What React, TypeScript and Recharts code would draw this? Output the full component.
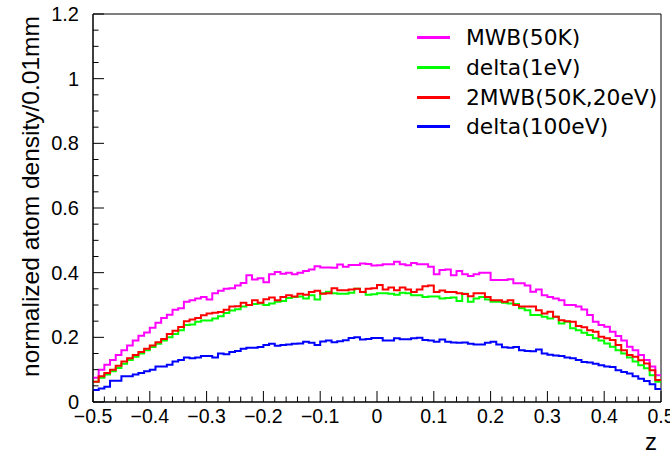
import React from "react";
import {
  LineChart,
  Line,
  XAxis,
  YAxis,
  ReferenceArea,
} from "recharts";

// 100 bins of width 0.01 on z in [-0.5, 0.5]
const binEdges = Array.from({ length: 101 }, (_, i) => Math.round((-0.5 + i * 0.01) * 100) / 100);

const mwb50K = [
  0.075, 0.10, 0.115, 0.13, 0.145, 0.16, 0.175, 0.19, 0.205, 0.215, 0.23, 0.245, 0.26, 0.27, 0.285, 0.29, 0.31,
  0.315, 0.32, 0.325, 0.317, 0.336, 0.344, 0.35, 0.352, 0.36, 0.368, 0.392, 0.379, 0.383, 0.37, 0.395, 0.402, 0.397, 0.40,
  0.395, 0.40, 0.405, 0.41, 0.42, 0.416, 0.416, 0.415, 0.425, 0.418, 0.424, 0.424, 0.428, 0.427, 0.422,
  0.423, 0.426, 0.426, 0.434, 0.426, 0.423, 0.43, 0.426, 0.426, 0.418, 0.395, 0.408, 0.41, 0.392, 0.405, 0.395, 0.39,
  0.395, 0.40, 0.40, 0.377, 0.377, 0.377, 0.38, 0.367, 0.367, 0.36, 0.341, 0.348, 0.33, 0.325, 0.32, 0.315, 0.30,
  0.30, 0.295, 0.286, 0.269, 0.248, 0.238, 0.233, 0.217, 0.204, 0.19, 0.171, 0.16, 0.145, 0.13, 0.11, 0.083,
];

const delta1eV = [
  0.063, 0.075, 0.085, 0.095, 0.105, 0.118, 0.13, 0.14, 0.15, 0.16, 0.17, 0.18, 0.19, 0.20, 0.21, 0.222, 0.238,
  0.24, 0.248, 0.252, 0.252, 0.258, 0.265, 0.275, 0.283, 0.287, 0.295, 0.30, 0.303, 0.305, 0.30, 0.305, 0.31, 0.312, 0.322,
  0.325, 0.326, 0.32, 0.33, 0.317, 0.336, 0.341, 0.336, 0.335, 0.335, 0.338, 0.35, 0.34, 0.332, 0.333,
  0.336, 0.336, 0.335, 0.332, 0.338, 0.336, 0.33, 0.33, 0.325, 0.326, 0.326, 0.32, 0.322, 0.323, 0.312, 0.335, 0.31,
  0.32, 0.325, 0.317, 0.31, 0.31, 0.307, 0.305, 0.303, 0.29, 0.284, 0.269, 0.269, 0.264, 0.258, 0.264, 0.243, 0.248,
  0.228, 0.222, 0.214, 0.207, 0.197, 0.19, 0.181, 0.171, 0.16, 0.15, 0.138, 0.125, 0.114, 0.104, 0.083, 0.063,
];

const mwb2_50K20eV = [
  0.063, 0.08, 0.09, 0.10, 0.112, 0.125, 0.135, 0.145, 0.155, 0.165, 0.175, 0.185, 0.195, 0.21, 0.22, 0.232, 0.25,
  0.255, 0.26, 0.268, 0.274, 0.276, 0.278, 0.285, 0.295, 0.296, 0.307, 0.30, 0.315, 0.307, 0.318, 0.323, 0.315, 0.325, 0.33,
  0.326, 0.335, 0.332, 0.34, 0.344, 0.335, 0.336, 0.352, 0.346, 0.346, 0.348, 0.35, 0.34, 0.35, 0.352,
  0.362, 0.348, 0.354, 0.346, 0.354, 0.348, 0.34, 0.348, 0.358, 0.36, 0.34, 0.345, 0.34, 0.34, 0.336, 0.334, 0.327,
  0.336, 0.336, 0.325, 0.315, 0.315, 0.31, 0.315, 0.30, 0.295, 0.295, 0.295, 0.284, 0.274, 0.279, 0.264, 0.253, 0.25,
  0.248, 0.235, 0.231, 0.222, 0.217, 0.202, 0.197, 0.192, 0.176, 0.16, 0.145, 0.14, 0.129, 0.119, 0.098, 0.068,
];

const delta100eV = [
  0.037, 0.042, 0.047, 0.066, 0.066, 0.08, 0.08, 0.085, 0.09, 0.095, 0.10, 0.11, 0.11, 0.115, 0.125, 0.13, 0.138,
  0.135, 0.138, 0.142, 0.142, 0.138, 0.15, 0.148, 0.155, 0.158, 0.165, 0.168, 0.168, 0.17, 0.176, 0.18, 0.174, 0.176, 0.178,
  0.18, 0.181, 0.186, 0.183, 0.176, 0.187, 0.19, 0.185, 0.188, 0.191, 0.198, 0.2, 0.193, 0.195, 0.198,
  0.198, 0.19, 0.19, 0.197, 0.194, 0.194, 0.197, 0.199, 0.192, 0.19, 0.186, 0.193, 0.186, 0.184, 0.183, 0.184, 0.18,
  0.178, 0.178, 0.183, 0.186, 0.178, 0.169, 0.168, 0.17, 0.16, 0.158, 0.157, 0.162, 0.15, 0.146, 0.144, 0.142, 0.138,
  0.135, 0.13, 0.124, 0.122, 0.118, 0.114, 0.11, 0.108, 0.098, 0.093, 0.088, 0.08, 0.072, 0.065, 0.055, 0.04,
];

const series = [
  { key: "mwb", name: "MWB(50K)", color: "#ff00ff", values: mwb50K },
  { key: "d1", name: "delta(1eV)", color: "#00ff00", values: delta1eV },
  { key: "mwb2", name: "2MWB(50K,20eV)", color: "#ff0000", values: mwb2_50K20eV },
  { key: "d100", name: "delta(100eV)", color: "#0000ff", values: delta100eV },
];

// step histogram: one point per low edge, plus the upper edge repeating the last bin
const data = binEdges.map((z, i) => {
  const row: any = { z };
  series.forEach((s) => {
    row[s.key] = s.values[Math.min(i, s.values.length - 1)];
  });
  return row;
});

const xMajor = [-0.5, -0.4, -0.3, -0.2, -0.1, 0, 0.1, 0.2, 0.3, 0.4, 0.5];
const yMajor = [0, 0.2, 0.4, 0.6, 0.8, 1, 1.2];
const xTicks = Array.from({ length: 51 }, (_, i) => Math.round((-0.5 + i * 0.02) * 100) / 100);
const yTicks = Array.from({ length: 25 }, (_, i) => Math.round(i * 0.05 * 100) / 100);

const axisFont = "'Liberation Sans', Arial, sans-serif";

const fmt = (v: number) => (v < 0 ? "\u2212" + String(-v) : String(v));

const XTick = (props: any) => {
  const { x, y, payload } = props;
  const v = payload.value;
  const major = xMajor.some((m) => Math.abs(m - v) < 1e-6);
  return (
    <g>
      <line x1={x} x2={x} y1={y} y2={y - (major ? 11 : 5.5)} stroke="#000" strokeWidth={1} />
      {major && (
        <text x={x} y={y + 21} textAnchor="middle" fontFamily={axisFont} fontSize={19.5} fill="#000">
          {fmt(v)}
        </text>
      )}
    </g>
  );
};

const YTick = (props: any) => {
  const { x, y, payload } = props;
  const v = payload.value;
  const major = yMajor.some((m) => Math.abs(m - v) < 1e-6);
  return (
    <g>
      <line x1={x} x2={x + (major ? 11 : 5.5)} y1={y} y2={y} stroke="#000" strokeWidth={1} />
      {major && (
        <text x={x - 14} y={y + 7} textAnchor="end" fontFamily={axisFont} fontSize={20} fill="#000">
          {fmt(v)}
        </text>
      )}
    </g>
  );
};

const HistLegend = () => (
  <div
    style={{
      position: "absolute",
      left: 417,
      top: 23,
      fontFamily: "'DejaVu Sans', sans-serif",
      fontSize: 21.8,
      color: "#000",
    }}
  >
    {series.map((s) => (
      <div key={s.key} style={{ display: "flex", alignItems: "center", height: 29.7 }}>
        <div style={{ width: 33, height: 3, background: s.color, marginRight: 16 }} />
        <span style={{ whiteSpace: "nowrap" }}>{s.name}</span>
      </div>
    ))}
  </div>
);

export default function App() {
  return (
    <div style={{ position: "absolute", left: 0, top: 0, width: 670, height: 457, background: "#fff" }}>
      <LineChart width={670} height={457} data={data} margin={{ top: 14, right: 9, left: 0, bottom: 0 }}>
        <XAxis
          dataKey="z"
          type="number"
          domain={[-0.5, 0.5]}
          ticks={xTicks}
          interval={0}
          tick={<XTick />}
          tickLine={false}
          tickSize={0}
          tickMargin={0}
          height={55}
          stroke="#000"
          allowDataOverflow
        />
        <YAxis
          type="number"
          domain={[0, 1.2]}
          ticks={yTicks}
          interval={0}
          tick={<YTick />}
          tickLine={false}
          tickSize={0}
          tickMargin={0}
          width={93}
          stroke="#000"
          allowDataOverflow
          label={{
            content: () => (
              <text
                transform="translate(39, 377) rotate(-90)"
                textAnchor="start"
                fontFamily={axisFont}
                fontSize={24.5}
                fill="#000"
              >
                normalized atom density/0.01mm
              </text>
            ),
          }}
        />
        <ReferenceArea x1={-0.5} x2={0.5} y1={0} y2={1.2} fill="none" stroke="#000" strokeWidth={1} ifOverflow="visible" />
        {series.map((s) => (
          <Line
            key={s.key}
            dataKey={s.key}
            name={s.name}
            type="stepAfter"
            stroke={s.color}
            strokeWidth={2}
            dot={false}
            activeDot={false}
            isAnimationActive={false}
          />
        ))}
      </LineChart>
      <HistLegend />
      <div
        style={{
          position: "absolute",
          left: 645,
          top: 430,
          fontFamily: axisFont,
          fontSize: 24,
          lineHeight: "24px",
        }}
      >
        z
      </div>
    </div>
  );
}
